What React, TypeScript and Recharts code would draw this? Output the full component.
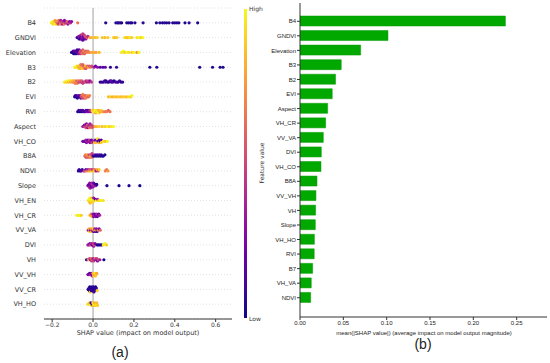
import React from 'react';
import { ScatterChart, Scatter, XAxis, YAxis, CartesianGrid, ReferenceLine, BarChart, Bar } from 'recharts';

// ---------- Panel (a): SHAP beeswarm ----------
const featureNames = ['B4', 'GNDVI', 'Elevation', 'B3', 'B2', 'EVI', 'RVI', 'Aspect', 'VH_CO', 'B8A', 'NDVI', 'Slope', 'VH_EN', 'VH_CR', 'VV_VA', 'DVI', 'VH', 'VV_VH', 'VV_CR', 'VH_HO'];
const shapTicks = [-0.2, 0, 0.2, 0.4, 0.6];

// [shap value, normalized feature value]
const F_B4 = [[-0.205,1],[-0.2,0.95],[-0.198,1],[-0.195,0.9],[-0.19,0.97],[-0.19,0.85],[-0.187,1],[-0.185,0.8],[-0.182,0.92],[-0.18,0.7],[-0.178,0.88],[-0.175,0.6],[-0.172,0.75],[-0.17,0.5],[-0.168,0.65],[-0.165,0.4],[-0.163,0.55],[-0.16,0.7],[-0.158,0.35],[-0.155,0.6],[-0.152,0.45],[-0.15,0.3],[-0.148,0.55],[-0.145,0.4],[-0.142,0.65],[-0.14,0.3],[-0.137,0.5],[-0.134,0.25],[-0.13,0.45],[-0.127,0.6],[-0.123,0.3],[-0.12,0.5],[-0.115,0.25],[-0.11,0.4],[-0.105,0.3],[-0.075,0.65],[0.062,0.05],[0.112,0.02],[0.12,0.08],[0.126,0.03],[0.133,0.1],[0.14,0.02],[0.165,0.05],[0.174,0.02],[0.183,0.08],[0.19,0.03],[0.205,0.05],[0.245,0.05],[0.31,0.02],[0.327,0.06],[0.34,0.02],[0.35,0.08],[0.36,0.03],[0.372,0.05],[0.39,0.02],[0.4,0.07],[0.41,0.03],[0.42,0.05],[0.45,0.02],[0.47,0.06],[0.512,0.04]];
const F_GNDVI = [[-0.078,0.15],[-0.074,0.05],[-0.07,0.3],[-0.068,0.1],[-0.065,0.35],[-0.063,0.2],[-0.062,0.05],[-0.06,0.4],[-0.058,0.1],[-0.057,0.25],[-0.055,0.3],[-0.053,0.5],[-0.05,0.2],[-0.05,0.45],[-0.048,0.35],[-0.046,0.1],[-0.045,0.15],[-0.043,0.45],[-0.04,0.3],[-0.038,0.55],[-0.035,0.25],[-0.03,0.6],[-0.025,0.4],[-0.015,0.8],[-0.005,0.85],[0.01,0.85],[0.02,0.9],[0.045,0.88],[0.058,0.85],[0.073,0.9],[0.1,0.92],[0.107,0.85],[0.117,0.9],[0.155,0.95],[0.162,0.9],[0.17,0.88],[0.18,0.95],[0.19,0.9],[0.215,0.95],[0.225,1],[0.235,0.9],[0.244,1]];
const F_Elevation = [[-0.105,0.02],[-0.1,0.05],[-0.097,0.1],[-0.095,0.02],[-0.092,0.08],[-0.09,0.15],[-0.088,0.03],[-0.085,0.1],[-0.083,0.2],[-0.08,0.05],[-0.078,0.12],[-0.075,0.25],[-0.073,0.08],[-0.07,0.3],[-0.068,0.15],[-0.065,0.4],[-0.062,0.55],[-0.06,0.45],[-0.057,0.6],[-0.055,0.5],[-0.052,0.65],[-0.05,0.55],[-0.047,0.6],[-0.045,0.7],[-0.042,0.55],[-0.04,0.65],[-0.035,0.6],[-0.03,0.7],[-0.025,0.65],[-0.018,0.7],[-0.005,0.8],[0.005,0.82],[0.015,0.8],[0.03,0.85],[0.14,0.95],[0.148,1],[0.155,0.9],[0.165,1],[0.175,0.95],[0.19,0.9],[0.2,1],[0.215,0.75],[0.225,1]];
const F_B3 = [[-0.09,1],[-0.085,0.95],[-0.08,1],[-0.075,0.9],[-0.072,0.85],[-0.07,0.95],[-0.067,0.75],[-0.065,0.9],[-0.062,0.8],[-0.06,0.65],[-0.057,0.85],[-0.055,0.7],[-0.052,0.9],[-0.05,0.6],[-0.047,0.8],[-0.045,0.55],[-0.042,0.75],[-0.04,0.65],[-0.037,0.85],[-0.035,0.5],[-0.03,0.7],[-0.027,0.6],[-0.022,0.8],[-0.018,0.55],[-0.012,0.65],[-0.006,0.5],[0.005,0.35],[0.012,0.2],[0.022,0.3],[0.035,0.15],[0.048,0.1],[0.06,0.2],[0.085,0.05],[0.115,0.08],[0.278,0.02],[0.312,0.05],[0.522,0.02],[0.585,0.05],[0.622,0.02],[0.636,0.04]];
const F_B2 = [[-0.14,1],[-0.135,0.95],[-0.13,0.9],[-0.125,1],[-0.12,0.85],[-0.115,0.95],[-0.11,0.8],[-0.105,0.9],[-0.1,0.75],[-0.097,0.85],[-0.093,0.7],[-0.09,0.8],[-0.087,0.65],[-0.083,0.75],[-0.08,0.6],[-0.077,0.7],[-0.073,0.55],[-0.07,0.65],[-0.066,0.5],[-0.062,0.6],[-0.058,0.45],[-0.055,0.55],[-0.05,0.5],[-0.045,0.4],[-0.04,0.55],[-0.035,0.45],[-0.03,0.35],[-0.025,0.5],[-0.02,0.4],[-0.015,0.3],[-0.008,0.45],[0.035,0.05],[0.042,0.1],[0.05,0.02],[0.057,0.15],[0.06,0.25],[0.063,0.05],[0.07,0.1],[0.077,0.02],[0.083,0.12],[0.09,0.05],[0.09,0.2],[0.097,0.15],[0.103,0.02],[0.11,0.08],[0.117,0.2],[0.123,0.05],[0.13,0.1],[0.137,0.03],[0.145,0.08]];
const F_EVI = [[-0.09,0.02],[-0.087,0.08],[-0.083,0.05],[-0.08,0.12],[-0.077,0.03],[-0.073,0.1],[-0.07,0.2],[-0.067,0.06],[-0.063,0.25],[-0.06,0.15],[-0.058,0.45],[-0.055,0.6],[-0.052,0.5],[-0.05,0.7],[-0.047,0.55],[-0.045,0.65],[-0.042,0.5],[-0.04,0.75],[-0.037,0.6],[-0.035,0.7],[-0.03,0.65],[-0.027,0.75],[-0.022,0.6],[-0.017,0.7],[0.075,0.85],[0.085,0.9],[0.095,0.82],[0.105,0.88],[0.115,0.85],[0.125,0.9],[0.135,0.85],[0.145,0.88],[0.155,0.9],[0.165,0.85],[0.175,0.95],[0.185,0.9],[0.19,1]];
const F_RVI = [[-0.075,0.05],[-0.07,0.1],[-0.065,0.03],[-0.06,0.15],[-0.055,0.05],[-0.05,0.1],[-0.045,0.2],[-0.04,0.08],[-0.035,0.15],[-0.03,0.3],[-0.025,0.1],[-0.02,0.25],[-0.015,0.4],[-0.01,0.35],[-0.005,0.9],[0,1],[0.003,0.85],[0.007,0.95],[0.01,1],[0.013,0.8],[0.016,0.95],[0.02,0.9],[0.023,1],[0.027,0.85],[0.03,0.95],[0.035,0.8],[0.04,0.9],[0.045,0.85],[0.05,0.75],[0.06,0.65],[0.068,0.7],[0.075,0.6],[0.083,0.65]];
const F_Aspect = [[-0.05,0.3],[-0.045,0.4],[-0.042,0.2],[-0.04,0.5],[-0.037,0.35],[-0.035,0.55],[-0.032,0.25],[-0.03,0.45],[-0.027,0.6],[-0.025,0.3],[-0.022,0.5],[-0.02,0.4],[-0.017,0.65],[-0.015,0.35],[-0.012,0.55],[-0.008,0.45],[-0.005,0.6],[0,0.5],[0.01,0.8],[0.018,0.85],[0.03,0.9],[0.045,0.85],[0.055,0.95],[0.062,0.9],[0.07,1],[0.08,0.9],[0.09,0.95],[0.1,1]];
const F_VH_CO = [[-0.05,0.2],[-0.045,0.3],[-0.04,0.15],[-0.035,0.35],[-0.032,0.25],[-0.028,0.4],[-0.025,0.2],[-0.022,0.3],[-0.018,0.45],[-0.015,0.25],[-0.012,0.35],[-0.008,0.2],[-0.005,0.5],[0,0.3],[0.005,0.4],[0.01,0.25],[0.015,0.15],[0.02,0.35],[0.025,0.1],[0.03,0.2],[0.035,0.05],[0.04,0.15],[0.008,0.9],[0.015,0.85],[0.022,0.95],[0.03,0.8],[0.04,0.9],[0.05,0.95],[0.06,0.85],[0.07,1]];
const F_B8A = [[-0.04,0.6],[-0.037,0.7],[-0.034,0.55],[-0.031,0.65],[-0.028,0.75],[-0.025,0.6],[-0.022,0.7],[-0.019,0.5],[-0.016,0.65],[-0.013,0.8],[-0.01,0.55],[-0.007,0.7],[-0.005,0.45],[0,0.1],[0.005,0.05],[0.01,0.15],[0.015,0.02],[0.02,0.1],[0.025,0.05],[0.03,0.12],[0.035,0.03],[0.04,0.08],[0.045,0.02],[0.05,0.06],[0.058,0.03]];
const F_NDVI = [[-0.072,0.05],[-0.068,0.1],[-0.063,0.02],[-0.058,0.15],[-0.053,0.08],[-0.045,0.3],[-0.04,0.6],[-0.035,0.2],[-0.03,0.75],[-0.025,0.35],[-0.02,0.8],[-0.015,0.5],[-0.01,0.9],[-0.005,0.4],[0,0.85],[0.003,0.6],[0.007,0.95],[0.01,0.7],[0.015,0.3],[0.02,0.8],[0.025,0.55],[0.03,0.9],[0.06,0.7],[0.067,0.65],[0.073,0.75]];
const F_Slope = [[-0.025,0.2],[-0.022,0.3],[-0.02,0.15],[-0.018,0.35],[-0.016,0.25],[-0.014,0.4],[-0.012,0.2],[-0.01,0.3],[-0.008,0.15],[-0.006,0.35],[-0.004,0.25],[-0.002,0.45],[0,0.3],[0.003,0.2],[0.006,0.4],[0.01,0.1],[0.014,0.3],[0.018,0.05],[0.068,0.03],[0.127,0.02],[0.176,0.04],[0.229,0.02]];
const F_VH_EN = [[-0.022,0.95],[-0.02,1],[-0.018,0.9],[-0.016,1],[-0.014,0.85],[-0.012,0.95],[-0.01,1],[-0.008,0.9],[-0.006,0.8],[-0.004,0.95],[-0.002,1],[0,0.9],[0.003,0.3],[0.008,0.95],[0.012,0.2],[0.017,1],[0.022,0.35],[0.028,0.9],[0.035,0.95],[0.042,1],[0.05,0.95]];
const F_VH_CR = [[-0.08,1],[-0.072,0.95],[-0.065,1],[-0.058,0.9],[-0.015,0.9],[-0.012,0.8],[-0.009,0.65],[-0.006,0.85],[-0.003,0.7],[0,0.3],[0.003,0.2],[0.006,0.35],[0.009,0.15],[0.012,0.3],[0.015,0.2],[0.018,0.4],[0.021,0.15],[0.024,0.3],[0.028,0.2],[0.032,0.35]];
const F_VV_VA = [[-0.025,0.85],[-0.022,0.3],[-0.019,0.8],[-0.016,0.9],[-0.013,0.25],[-0.01,0.75],[-0.007,0.85],[-0.004,0.3],[-0.001,0.9],[0.002,0.2],[0.005,0.8],[0.008,0.35],[0.011,0.15],[0.014,0.85],[0.017,0.3],[0.02,0.1],[0.025,0.7],[0.03,0.25],[0.035,0.6]];
const F_DVI = [[-0.025,0.3],[-0.02,0.4],[-0.016,0.25],[-0.012,0.5],[-0.008,0.35],[-0.004,0.2],[0,0.45],[0.003,0.3],[0.006,0.55],[0.01,0.25],[0.02,0.05],[0.027,0.02],[0.034,0.08],[0.042,0.03],[0.05,0.95],[0.058,1],[0.066,0.9]];
const F_VH = [[-0.032,0.05],[-0.025,0.4],[-0.02,0.95],[-0.017,0.5],[-0.013,0.3],[-0.01,0.6],[-0.007,0.45],[-0.004,0.55],[0,0.35],[0.003,0.5],[0.006,0.4],[0.01,0.6],[0.014,0.3],[0.018,0.45],[0.022,0.25],[0.027,0.55],[0.033,0.35],[0.053,0.02]];
const F_VV_VH = [[-0.025,0.2],[-0.021,0.3],[-0.017,0.15],[-0.013,0.35],[-0.009,0.25],[-0.005,0.4],[-0.002,0.2],[0,0.85],[0.003,0.9],[0.006,0.8],[0.009,0.95],[0.012,0.85],[0.015,0.9],[0.018,0.8]];
const F_VV_CR = [[-0.024,0.05],[-0.022,0.03],[-0.02,0.1],[-0.018,0.06],[-0.016,0.02],[-0.014,0.9],[-0.012,0.08],[-0.01,0.02],[-0.008,0.05],[-0.006,0.08],[-0.004,0.12],[-0.002,0.04],[0,0.03],[0.002,0.06],[0.004,0.1],[0.006,0.02],[0.008,0.05],[0.01,0.1],[0.012,0.02],[0.014,0.05],[0.016,0.08],[0.02,0.9]];
const F_VH_HO = [[-0.025,0.9],[-0.021,0.95],[-0.017,0.85],[-0.013,1],[-0.01,0.1],[-0.007,0.9],[-0.004,0.15],[-0.001,0.95],[0.002,0.85],[0.005,1],[0.008,0.8],[0.011,0.9],[0.014,0.95],[0.018,0.85],[0.022,0.9]];

const featurePoints = [F_B4, F_GNDVI, F_Elevation, F_B3, F_B2, F_EVI, F_RVI, F_Aspect, F_VH_CO, F_B8A, F_NDVI, F_Slope, F_VH_EN, F_VH_CR, F_VV_VA, F_DVI, F_VH, F_VV_VH, F_VV_CR, F_VH_HO];

// ---------- Panel (b): mean |SHAP| bars ----------
const barNames = ['B4', 'GNDVI', 'Elevation', 'B3', 'B2', 'EVI', 'Aspect', 'VH_CR', 'VV_VA', 'DVI', 'VH_CO', 'B8A', 'VV_VH', 'VH', 'Slope', 'VH_HO', 'RVI', 'B7', 'VH_VA', 'NDVI'];
const barValues = [0.237, 0.1015, 0.07, 0.0476, 0.041, 0.0372, 0.0319, 0.0296, 0.0269, 0.0246, 0.0242, 0.0196, 0.0184, 0.018, 0.0177, 0.0166, 0.0164, 0.0146, 0.013, 0.0123];
const barTicks = [0, 0.05, 0.1, 0.15, 0.2, 0.25];

const plasmaStops = ['#0d0887', '#41049d', '#6a00a8', '#8f0da4', '#b12a90', '#cc4778', '#e16462', '#f2844b', '#fca636', '#fcce25', '#f0f921'];

function hexToRgb(h: string) {
  return [parseInt(h.slice(1, 3), 16), parseInt(h.slice(3, 5), 16), parseInt(h.slice(5, 7), 16)];
}
function plasma(t: number) {
  const v = Math.max(0, Math.min(1, t)) * (plasmaStops.length - 1);
  const i = Math.min(plasmaStops.length - 2, Math.floor(v));
  const f = v - i;
  const a = hexToRgb(plasmaStops[i]);
  const b = hexToRgb(plasmaStops[i + 1]);
  const c = a.map((x, k) => Math.round(x + (b[k] - x) * f));
  return `rgb(${c[0]},${c[1]},${c[2]})`;
}

// beeswarm layout (like shap's summary plot): stack points that fall in the same bin
function swarmRow(points: number[][], row: number) {
  const binW = 0.009;
  const items = points.map((p, i) => ({ x: p[0], c: p[1], q: Math.round(p[0] / binW), i }));
  items.sort((a, b) => a.q - b.q || a.i - b.i);
  let layer = 0;
  let last = NaN;
  return items.map((p) => {
    if (p.q !== last) layer = 0;
    const off = Math.ceil(layer / 2) * ((layer % 2) * 2 - 1);
    layer++;
    last = p.q;
    const dy = Math.max(-0.4, Math.min(0.4, off * 0.085));
    return { x: p.x, y: featureNames.length - 1 - row + dy, c: p.c };
  });
}

const scatterData = featurePoints.flatMap((pts, i) => swarmRow(pts, i));
const rowTicks = featureNames.map((_, i) => i);
const barData = barNames.map((name, i) => ({ name, value: barValues[i] }));

const fmtShap = (v: number) => (v < 0 ? '\u2212' + Math.abs(v).toFixed(1) : v.toFixed(1));

const LABEL_FONT = '6.5px "DejaVu Sans"';
let measureCtx: CanvasRenderingContext2D | null = null;
function textWidth(s: string) {
  if (typeof document === 'undefined') return s.length * 4;
  if (!measureCtx) measureCtx = document.createElement('canvas').getContext('2d');
  if (!measureCtx) return s.length * 4;
  measureCtx.font = LABEL_FONT;
  return measureCtx.measureText(s).width;
}

const Dot = (props: any) => {
  const { cx, cy, payload } = props;
  if (cx == null || cy == null) return null;
  return <circle cx={cx} cy={cy} r={1.6} fill={plasma(payload.c)} />;
};

// right-aligned feature label, ending at the tick position given by the axis
const FeatureTick = (props: any) => {
  const { x, y, payload } = props;
  const name = featureNames[featureNames.length - 1 - payload.value];
  const w = textWidth(name);
  return (
    <text x={x - w} y={y} dy="0.35em" textAnchor="start" fontSize={6.5} fill="#333" fontFamily="DejaVu Sans, sans-serif">
      {name}
    </text>
  );
};

export default function App() {
  const fa = 'DejaVu Sans, sans-serif';
  const fb = 'Liberation Sans, Arial, sans-serif';
  return (
    <div style={{ position: 'absolute', left: 0, top: 0, width: 550, height: 363, background: '#fff' }}>
      <div style={{ position: 'absolute', left: 0, top: 0 }}>
        <BarChart width={550} height={363} data={barData} layout="vertical" margin={{ top: 3, right: 3, bottom: 26, left: 0 }}>
          <XAxis
            type="number"
            domain={[0, 0.285]}
            ticks={barTicks}
            tickFormatter={(v: number) => v.toFixed(2)}
            allowDataOverflow
            height={20}
            stroke="#333"
            tickSize={3}
            tickMargin={1}
            tick={{ fontSize: 6, fill: '#222', fontFamily: fb }}
          />
          <YAxis
            type="category"
            dataKey="name"
            width={300}
            interval={0}
            padding={{ top: 11, bottom: 12 }}
            stroke="#333"
            tickSize={3}
            tickMargin={1}
            tick={{ fontSize: 6, fill: '#222', fontFamily: fb }}
          />
          <Bar dataKey="value" fill="#00a800" stroke="#009800" strokeWidth={0.5} barSize={10} isAnimationActive={false} />
        </BarChart>
      </div>
      <div style={{ position: 'absolute', left: 0, top: 0 }}>
        <ScatterChart width={550} height={363} margin={{ top: 8, right: 318, bottom: 24, left: 0 }}>
          <CartesianGrid horizontal vertical={false} stroke="#d0d0d0" strokeDasharray="1 2" strokeWidth={0.6} />
          <XAxis
            type="number"
            dataKey="x"
            domain={[-0.24, 0.68]}
            ticks={shapTicks}
            tickFormatter={fmtShap}
            allowDataOverflow
            height={20}
            stroke="#333"
            tickSize={3}
            tickMargin={1}
            tick={{ fontSize: 6, fill: '#333', fontFamily: fa }}
          />
          <YAxis
            type="number"
            dataKey="y"
            domain={[-1, 20]}
            ticks={rowTicks}
            allowDataOverflow
            width={44}
            axisLine={false}
            tickLine={false}
            interval={0}
            tick={<FeatureTick />}
          />
          <ReferenceLine x={0} stroke="#a0a0a0" strokeWidth={1} />
          <Scatter data={scatterData} isAnimationActive={false} shape={Dot} />
        </ScatterChart>
      </div>
      <svg width={550} height={363} style={{ position: 'absolute', left: 0, top: 0, pointerEvents: 'none' }}>
        <defs>
          <linearGradient id="cbGrad" x1="0" y1="1" x2="0" y2="0">
            {plasmaStops.map((c, i) => (
              <stop key={i} offset={i / (plasmaStops.length - 1)} stopColor={c} />
            ))}
          </linearGradient>
        </defs>
        <rect x={244} y={9} width={3} height={309} fill="url(#cbGrad)" />
        <text x={249} y={11} fontSize={6} fill="#333" fontFamily={fa}>High</text>
        <text x={249} y={321} fontSize={6} fill="#333" fontFamily={fa}>Low</text>
        <text transform="translate(264,163) rotate(-90)" textAnchor="middle" fontSize={6} fill="#333" fontFamily={fa}>Feature value</text>
        <text x={138} y={335} textAnchor="middle" fontSize={6.5} fill="#333" fontFamily={fa}>SHAP value (impact on model output)</text>
        <text x={424} y={335} textAnchor="middle" fontSize={6} fill="#222" fontFamily={fb}>mean(|SHAP value|) (average impact on model output magnitude)</text>
        <text x={120} y={357} textAnchor="middle" fontSize={14} fill="#222" fontFamily={fb}>(a)</text>
        <text x={423} y={349} textAnchor="middle" fontSize={14} fill="#222" fontFamily={fb}>(b)</text>
      </svg>
    </div>
  );
}
